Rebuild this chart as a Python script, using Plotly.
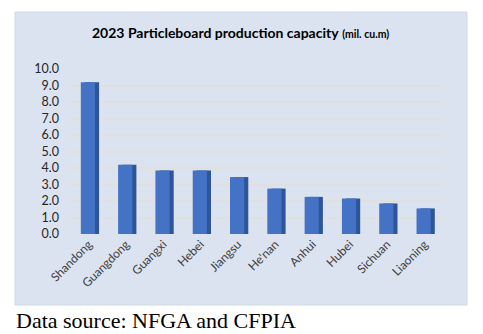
import plotly.graph_objects as go

provinces = ["Shandong", "Guangdong", "Guangxi", "Hebei", "Jiangsu",
             "He'nan", "Anhui", "Hubei", "Sichuan", "Liaoning"]
capacity = [9.2, 4.2, 3.85, 3.85, 3.45, 2.75, 2.25, 2.15, 1.85, 1.55]
y_ticks = [0, 1, 2, 3, 4, 5, 6, 7, 8, 9, 10]
y_tick_labels = [f"{v:.1f}" for v in y_ticks]

W, H = 483, 334
L, R, T, B = 70, 40, 69, 100
pw, ph = W - L - R, H - T - B

def px_x(p):
    return (p - L) / pw

def px_y(p):
    return (H - B - p) / ph

fig = go.Figure()
# darker side of the bars (pseudo-3D)
fig.add_trace(go.Bar(x=provinces, y=capacity, width=0.38, offset=-0.1,
                     marker=dict(color="#2e5597", line=dict(width=0)),
                     hoverinfo="skip", showlegend=False))
# front face
fig.add_trace(go.Bar(x=provinces, y=capacity, width=0.38, offset=-0.21,
                     marker=dict(color="#4472c4", line=dict(width=0)),
                     showlegend=False))

fig.update_layout(
    width=W, height=H,
    margin=dict(l=L, r=R, t=T, b=B),
    paper_bgcolor="white",
    plot_bgcolor="rgba(0,0,0,0)",
    barmode="overlay",
    font=dict(family="Lato, Open Sans, sans-serif", color="#404040"),
    xaxis=dict(tickangle=-45, tickfont=dict(size=12, color="#404040"),
               showgrid=False, showline=False, ticks=""),
    yaxis=dict(range=[0, 10], tickvals=y_ticks, ticktext=y_tick_labels,
               tickfont=dict(size=12.5, color="#262626"), ticklabelstandoff=10,
               showgrid=True, gridcolor="#e3dfdb", gridwidth=1.5,
               zeroline=False, showline=False, ticks=""),
    shapes=[dict(type="rect", xref="paper", yref="paper", layer="below",
                 x0=px_x(15), x1=px_x(467), y0=px_y(305), y1=px_y(12),
                 fillcolor="#dbe3f1", line=dict(color="#d0d8e6", width=1))],
    annotations=[
        dict(xref="paper", yref="paper", x=px_x(240), y=px_y(32),
             xanchor="center", yanchor="middle", showarrow=False,
             text="<b>2023 Particleboard production capacity</b> <b><span style='font-size:10.5px'>(mil. cu.m)</span></b>",
             font=dict(size=14, color="#000000", family="Lato, Open Sans, sans-serif")),
        dict(xref="paper", yref="paper", x=px_x(14), y=px_y(320),
             xanchor="left", yanchor="middle", showarrow=False,
             text="Data source: NFGA and CFPIA",
             font=dict(size=22, color="#000000", family="Liberation Serif, Times New Roman, serif")),
    ],
)

fig.write_html("out.html")
